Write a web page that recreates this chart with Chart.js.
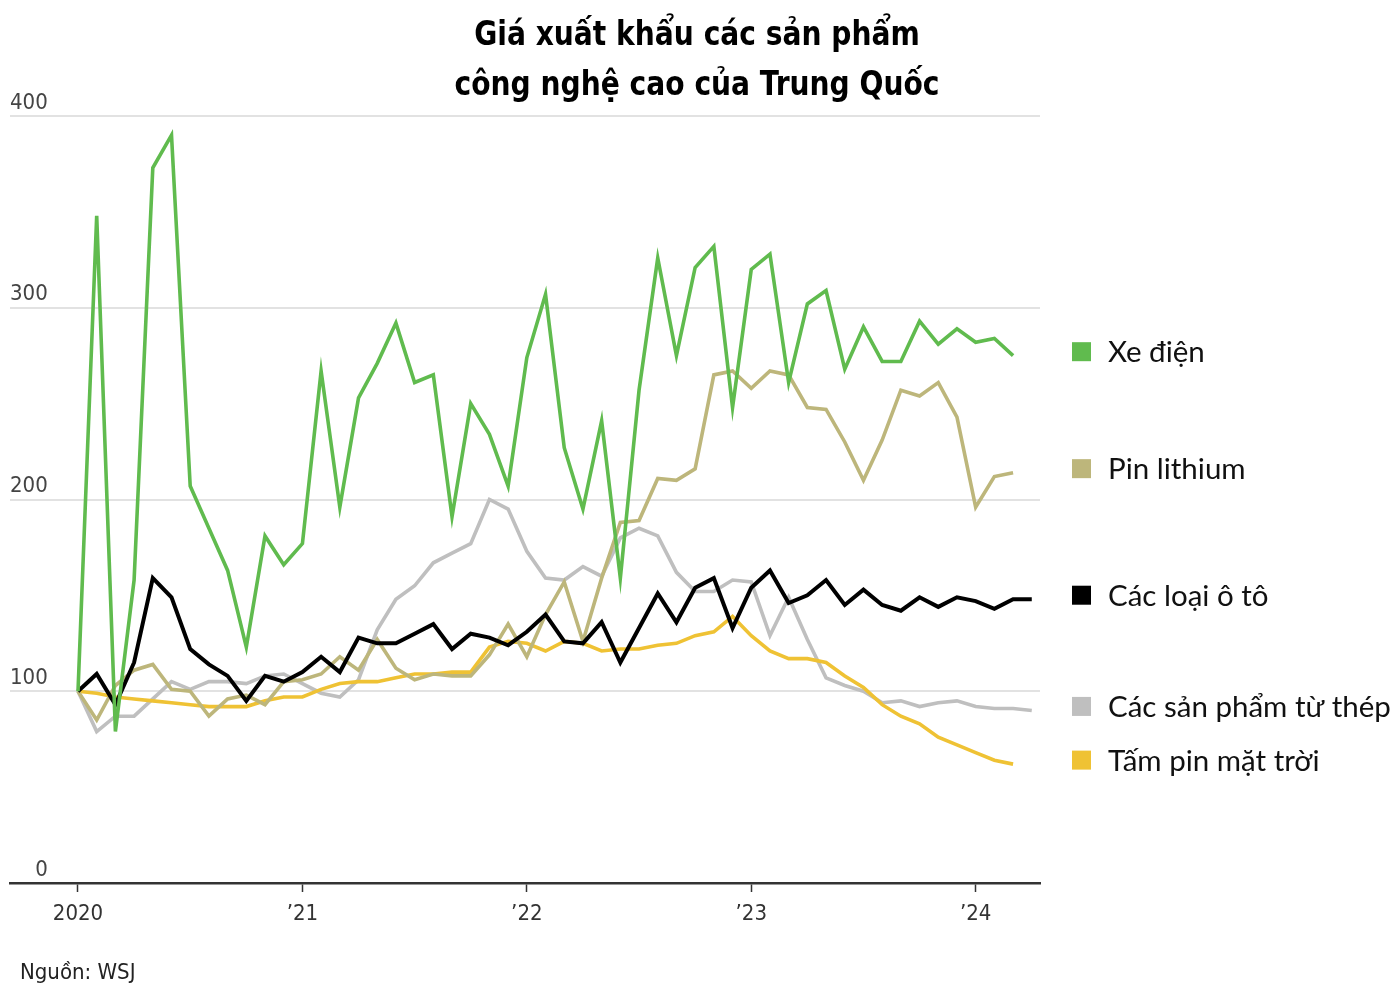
<!DOCTYPE html>
<html>
<head>
<meta charset="utf-8">
<script src="https://cdn.jsdelivr.net/npm/chart.js@4"></script>
<style>
  html, body { margin: 0; padding: 0; background: #fff; }
  #wrap { position: relative; width: 1394px; height: 994px; overflow: hidden; }
  #title { position: absolute; left: 0; top: 8px; width: 1394px; text-align: center;
    font: bold 34px 'DejaVu Sans Condensed', 'DejaVu Sans', sans-serif; line-height: 50px; color: #000;
    transform: scaleX(0.92); transform-origin: 697px 0; }
  #source { position: absolute; left: 20px; top: 959px;
    font: 22px 'DejaVu Sans Condensed', sans-serif; color: #222; }
  canvas { position: absolute; left: 0; top: 0; }
</style>
</head>
<body>
<div id="wrap">
  <canvas id="c" width="1394" height="994"></canvas>
  <div id="title">Giá xuất khẩu các sản phẩm<br>công nghệ cao của Trung Quốc</div>
  <div id="source">Nguồn: WSJ</div>
</div>
<script>
// Months Jan 2020 .. Apr 2024 (index = month number from Jan 2020)
const months = [];
for (let y = 2020; y <= 2024; y++) for (let m = 1; m <= 12; m++) if (y < 2024 || m <= 4) months.push(y + '-' + String(m).padStart(2, '0'));

const seriesNames = ['Xe điện', 'Pin lithium', 'Các loại ô tô', 'Các sản phẩm từ thép', 'Tấm pin mặt trời'];

const xeDien = [100,348,79,158,373,390,207,185,163,123,181,166,177,267,196,253,271,292,261,265,191,250,234,207,274,307,227,195,241,159,257,326,275,321,332,248,320,328,261,302,309,268,290,272,272,293,281,289,282,284,275];
const pinLithium = [100,85,103,111,114,101,100,87,96,98,93,105,106,109,118,111,127,112,106,109,108,108,119,135,118,140,157,126,159,188,189,211,210,216,265,267,258,267,265,248,247,230,210,231,257,254,261,243,196,212,214];
const oTo = [100,109,93,115,159,149,122,114,108,95,108,105,110,118,110,128,125,125,130,135,122,130,128,124,131,140,126,125,136,115,133,151,136,154,159,133,154,163,146,150,158,145,153,145,142,149,144,149,147,143,148,148];
const thep = [100,79,87,87,96,105,101,105,105,104,108,109,104,99,97,106,132,148,155,167,172,177,200,195,173,159,158,165,160,180,185,181,162,152,152,158,157,129,149,127,107,103,100,94,95,92,94,95,92,91,91,90];
const pinMatTroi = [100,99,97,96,95,94,93,92,92,92,95,97,97,101,104,105,105,107,109,109,110,110,123,126,125,121,126,125,121,122,122,124,125,129,131,139,129,121,117,117,115,108,102,93,87,83,76,72,68,64,62];

const xTickValues = [0, 12, 24, 36, 48];
const xTickLabels = ['2020', '\u201921', '\u201922', '\u201923', '\u201924'];
const yTickValues = [0, 100, 200, 300, 400];

const colors = ['#60bb4e', '#bdb67b', '#000000', '#bfbfbf', '#efc234'];
const widths = [3.6, 3.6, 4, 3.6, 3.6];
const drawOrder = [0, 2, 1, 4, 3];
const allSeries = [xeDien, pinLithium, oTo, thep, pinMatTroi];

const AXIS_FONT = "'DejaVu Sans Condensed', sans-serif";
const LEGEND_FONT = "Lato, 'Noto Sans', sans-serif";

const legendPlugin = {
  id: 'endLegend',
  afterDatasetsDraw(chart) {
    const ctx = chart.ctx;
    const ys = chart.scales.y;
    ctx.save();
    chart.data.datasets.forEach((ds, i) => {
      const last = ds.data[ds.data.length - 1];
      const y = ys.getPixelForValue(last.y) - 4;
      ctx.fillStyle = colors[i];
      ctx.fillRect(1072, y - 9.5, 19, 19);
      ctx.fillStyle = '#111';
      ctx.font = '29.5px ' + LEGEND_FONT;
      ctx.textBaseline = 'middle';
      ctx.textAlign = 'left';
      ctx.fillText(ds.label, 1108, y + 1);
    });
    ctx.restore();
  }
};

new Chart(document.getElementById('c'), {
  type: 'line',
  data: {
    datasets: allSeries.map((vals, i) => ({
      label: seriesNames[i],
      data: vals.map((v, k) => ({ x: k, y: v })),
      borderColor: colors[i],
      borderWidth: widths[i],
      pointRadius: 0,
      tension: 0,
      fill: false,
      order: drawOrder[i],
      borderJoinStyle: 'miter',
      borderCapStyle: 'butt'
    }))
  },
  options: {
    responsive: false,
    animation: false,
    layout: { padding: { left: 10, right: 354, top: 116, bottom: 66 } },
    plugins: { legend: { display: false }, title: { display: false }, tooltip: { enabled: false } },
    scales: {
      x: {
        type: 'linear',
        min: -3.636,
        max: 51.44,
        afterBuildTicks(scale) { scale.ticks = xTickValues.map(v => ({ value: v })); },
        afterFit(scale) { scale.height = 45; },
        ticks: {
          callback(value) { const k = xTickValues.indexOf(value); return k >= 0 ? xTickLabels[k] : ''; },
          font: { family: AXIS_FONT, size: 22 },
          color: '#333',
          padding: 9,
          maxRotation: 0,
          autoSkip: false
        },
        grid: { drawOnChartArea: false, drawTicks: true, tickLength: 9, tickColor: '#333', tickWidth: 1.5 },
        border: { display: true, color: '#333', width: 2.5 }
      },
      y: {
        min: 0,
        max: 400,
        afterBuildTicks(scale) { scale.ticks = yTickValues.map(v => ({ value: v })); },
        afterFit(scale) { scale.width = 0; },
        ticks: {
          mirror: true,
          padding: 0,
          labelOffset: -13,
          callback(value) { return String(value).padStart(3, '\u2007'); },
          font: { family: AXIS_FONT, size: 22 },
          color: '#444'
        },
        grid: {
          drawTicks: false,
          color(ctx) { return ctx.tick && ctx.tick.value === 0 ? 'rgba(0,0,0,0)' : '#e2e2e2'; },
          lineWidth: 2
        },
        border: { display: false }
      }
    }
  },
  plugins: [legendPlugin]
});
</script>
</body>
</html>
